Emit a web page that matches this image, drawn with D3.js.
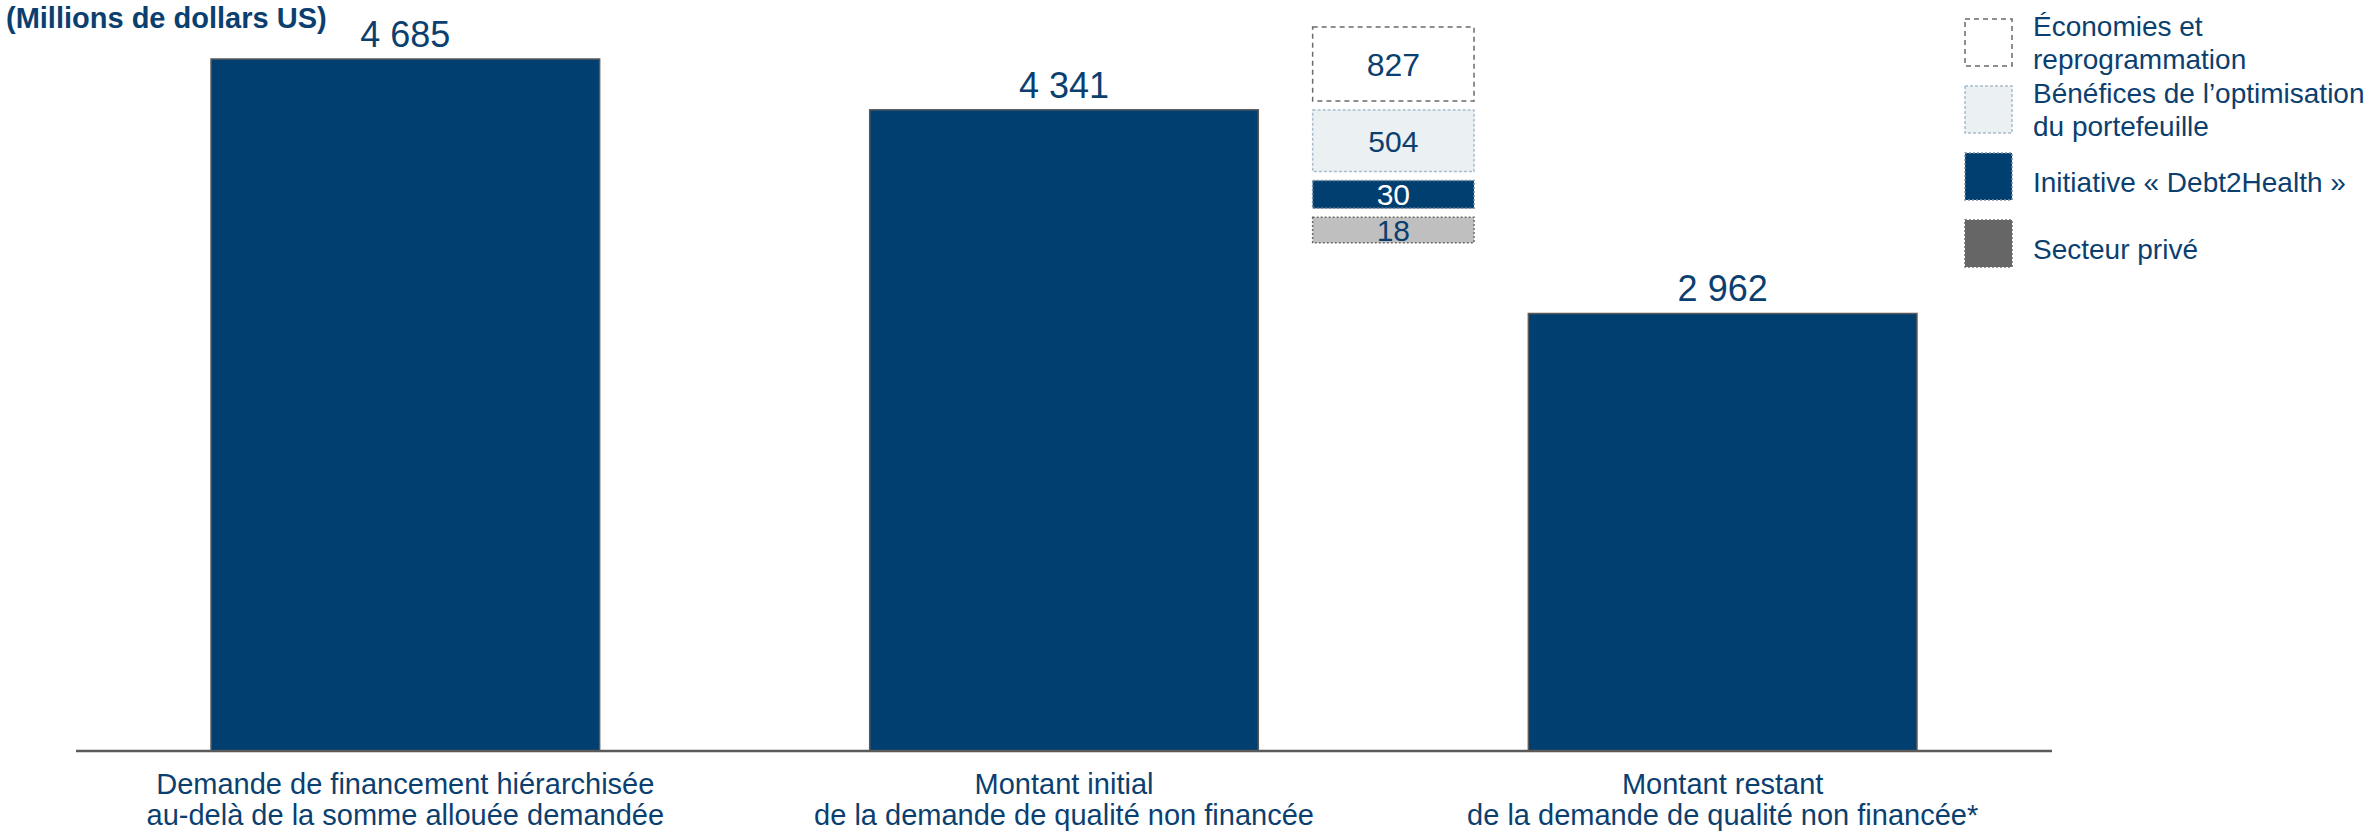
<!DOCTYPE html>
<html>
<head>
<meta charset="utf-8">
<script src="https://cdn.jsdelivr.net/npm/d3@7"></script>
<style>
  html, body { margin: 0; padding: 0; background: #fff; }
  svg { display: block; font-family: "Liberation Sans", Arial, sans-serif; }
</style>
</head>
<body>
<svg id="chart" width="2367" height="835"></svg>
<script>
// ---------- data ----------
const unitLabel = "(Millions de dollars US)";
const categoryLines = [
  ["Demande de financement hiérarchisée", "au-delà de la somme allouée demandée"],
  ["Montant initial", "de la demande de qualité non financée"],
  ["Montant restant", "de la demande de qualité non financée*"]
];
const barValues = [4685, 4341, 2962];
const componentKeys = ["eco", "opt", "d2h", "priv"];
const componentValues = [827, 504, 30, 18];
const legendLines = [
  ["Économies et", "reprogrammation"],
  ["Bénéfices de l’optimisation", "du portefeuille"],
  ["Initiative « Debt2Health »"],
  ["Secteur privé"]
];

// ---------- styles ----------
const BLUE = "#023F71";
const TEXT = "#0B3F6F";
const compStyle = {
  eco:  { fill: "#ffffff", stroke: "#6b6b6b", dash: "5,4", text: TEXT, legendFill: "#ffffff" },
  opt:  { fill: "#EBF0F3", stroke: "#A9BCCD", dash: "3,2", text: TEXT, legendFill: "#EBF0F3" },
  d2h:  { fill: BLUE,      stroke: "#7f8fa0", dash: "2,2", text: "#ffffff", legendFill: BLUE },
  priv: { fill: "#BFBFBF", stroke: "#6b6b6b", dash: "2,2", text: TEXT, legendFill: "#666666" }
};

const fmt = d3.formatLocale({ decimal: ",", thousands: " ", grouping: [3], currency: ["", ""] }).format(",");

const svg = d3.select("#chart");
const baseY = 751;

const x = d3.scaleBand()
  .domain(d3.range(categoryLines.length))
  .range([76, 2052])
  .paddingInner(0.41)
  .paddingOuter(0.205);

const y = d3.scaleLinear()
  .domain([0, d3.max(barValues)])
  .range([baseY, 59]);

// unit label
svg.append("text")
  .attr("x", 6).attr("y", 28)
  .attr("font-size", 29).attr("font-weight", "bold")
  .attr("fill", TEXT)
  .text(unitLabel);

// bars
svg.append("g").selectAll("rect")
  .data(barValues)
  .join("rect")
  .attr("x", (d, i) => x(i))
  .attr("y", d => y(d))
  .attr("width", x.bandwidth())
  .attr("height", d => baseY - y(d))
  .attr("fill", BLUE)
  .attr("stroke", "#5a5a5a")
  .attr("stroke-width", 1.5);

// bar value labels
svg.append("g").selectAll("text")
  .data(barValues)
  .join("text")
  .attr("x", (d, i) => x(i) + x.bandwidth() / 2)
  .attr("y", d => y(d) - 12)
  .attr("text-anchor", "middle")
  .attr("font-size", 36)
  .attr("fill", TEXT)
  .text(d => fmt(d));

// axis baseline
svg.append("line")
  .attr("x1", x.range()[0]).attr("x2", x.range()[1])
  .attr("y1", baseY).attr("y2", baseY)
  .attr("stroke", "#5a5a5a").attr("stroke-width", 2.5);

// category labels
const cat = svg.append("g").selectAll("text")
  .data(categoryLines)
  .join("text")
  .attr("text-anchor", "middle")
  .attr("font-size", 29)
  .attr("fill", TEXT);
cat.selectAll("tspan")
  .data((d, i) => d.map(t => ({ t, i })))
  .join("tspan")
  .attr("x", d => x(d.i) + x.bandwidth() / 2)
  .attr("y", (d, j) => 794 + j * 31)
  .text(d => d.t);

// floating component boxes (between bar 2 and bar 3)
const boxCenter = (x(1) + x(2) + x.bandwidth()) / 2;
const boxWidth = x.step() * 0.245;
const h = d3.scaleSqrt().domain([0, d3.max(componentValues)]).range([17, 74]);
const gap = 9;
let cursor = 27;
const boxes = componentValues.map((v, i) => {
  const hh = h(v);
  const b = { key: componentKeys[i], v, y0: cursor, hh };
  cursor += hh + gap;
  return b;
});
const bg = svg.append("g").selectAll("g").data(boxes).join("g");
bg.append("rect")
  .attr("x", boxCenter - boxWidth / 2)
  .attr("y", d => d.y0)
  .attr("width", boxWidth)
  .attr("height", d => d.hh)
  .attr("fill", d => compStyle[d.key].fill)
  .attr("stroke", d => compStyle[d.key].stroke)
  .attr("stroke-width", 1.5)
  .attr("stroke-dasharray", d => compStyle[d.key].dash);
bg.append("text")
  .attr("x", boxCenter)
  .attr("y", d => d.y0 + d.hh / 2)
  .attr("dy", "0.36em")
  .attr("text-anchor", "middle")
  .attr("font-size", (d, i) => i === 0 ? 32 : 30)
  .attr("fill", d => compStyle[d.key].text)
  .text(d => fmt(d.v));

// legend
const ly = d3.scaleBand().domain(componentKeys).range([19, 267]).paddingInner(0.2985).paddingOuter(0);
const lg = svg.append("g").selectAll("g").data(componentKeys).join("g");
lg.append("rect")
  .attr("x", 1965)
  .attr("y", d => ly(d))
  .attr("width", ly.bandwidth())
  .attr("height", ly.bandwidth())
  .attr("fill", d => compStyle[d].legendFill)
  .attr("stroke", d => compStyle[d].stroke)
  .attr("stroke-width", 1.5)
  .attr("stroke-dasharray", d => compStyle[d].dash);
lg.append("text")
  .attr("font-size", 28)
  .attr("fill", TEXT)
  .each(function (d, i) {
    const lines = legendLines[i];
    const cy = ly(d) + ly.bandwidth() / 2;
    const off = lines.length > 1 ? 10 : 16;
    d3.select(this).selectAll("tspan")
      .data(lines)
      .join("tspan")
      .attr("x", 2033)
      .attr("y", (t, j) => cy + off + (j - (lines.length - 1) / 2) * 33)
      .text(t => t);
  });
</script>
</body>
</html>
